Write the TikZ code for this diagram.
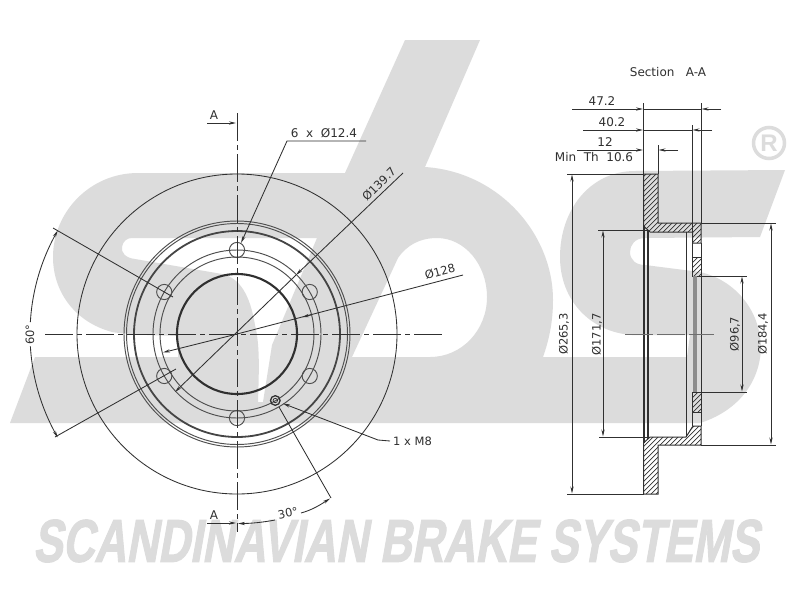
\documentclass[tikz,border=0pt]{standalone}
\usepackage{fontspec}
\usepackage{graphicx}
\setmainfont{DejaVu Sans}
\newfontfamily\logofont[FakeSlant=0.24,FakeBold=2,UprightFont=* Bold]{Liberation Sans}
\newfontfamily\regfont{Liberation Sans}
\usetikzlibrary{arrows.meta,calc}
\definecolor{wm}{HTML}{DCDCDC}
\definecolor{ink}{HTML}{303030}
\tikzset{
  thinl/.style={draw=ink,line width=0.85pt},
  ring/.style={draw=ink!85,line width=0.95pt},
  ringb/.style={draw=ink!90,line width=1.8pt},
  dim/.style={draw=ink,line width=0.85pt},
  tip/.style={-{Stealth[length=7pt,width=3.2pt]}},
  tips/.style={{Stealth[length=7pt,width=3.2pt]}-{Stealth[length=7pt,width=3.2pt]}},
  centre/.style={draw=ink,line width=0.85pt,dash pattern=on 28pt off 4pt on 5pt off 4pt},
  lab/.style={text=ink,inner sep=0pt,font=\fontsize{12}{14}\selectfont},
  labr/.style={text=ink,inner sep=0pt,font=\fontsize{11.5}{13}\selectfont},
}
\begin{document}
\begin{tikzpicture}[x=1pt,y=-1pt]
\useasboundingbox (0,0) rectangle (800,600);
\fill[white] (0,0) rectangle (800,600);
% watermark logo
\fill[wm,even odd rule]
  (10,423) -- (35,357) -- (178,357) -- (178,336)
  .. controls (150,335) and (130,335) .. (112,332)
  .. controls (75,322) and (53,292) .. (53,257)
  .. controls (53,212) and (90,173) .. (138,173)
  -- (345,173) -- (405,40) -- (480,40) -- (425,167)
  .. controls (500,172) and (553,235) .. (553,300)
  .. controls (553,322) and (549,340) .. (543,357)
  -- (687,357) -- (690,335) -- (632,335)
  .. controls (590,332) and (560,300) .. (560,257)
  .. controls (560,210) and (590,171) .. (635,171)
  -- (785,170) -- (760,237) -- (645,238)
  .. controls (635,238) and (630,245) .. (630,252)
  .. controls (630,260) and (636,265) .. (645,265)
  -- (700,272)
  .. controls (735,280) and (760,310) .. (761,347)
  .. controls (760,385) and (735,412) .. (700,423)
  -- cycle
  % first s counter
  (132,238) -- (317,238) -- (272,345) -- (263,402) -- (258,402)
  .. controls (259,370) and (260,345) .. (255,325)
  .. controls (250,295) and (240,278) .. (222,274)
  -- (135,259) .. controls (125,258) and (121,252) .. (122,247)
  .. controls (123,241) and (127,238) .. (132,238) -- cycle
  % b counter
  (352,357) -- (398,258)
  .. controls (407,245) and (420,238) .. (437,238)
  .. controls (465,238) and (487,265) .. (487,297)
  .. controls (487,330) and (462,357) .. (430,357) -- cycle;
\draw[wm,line width=3.5pt] (769,143) circle (15.5);
\node[text=wm,inner sep=0pt,font=\regfont\bfseries\fontsize{24}{24}\selectfont] (regmark) at (769,143) {R};
\node[text=wm,inner sep=0pt,anchor=center] (brand) at (396,541)
  {\resizebox{726pt}{42pt}{\logofont SCANDINAVIAN BRAKE SYSTEMS}};

% --- front view ---
\coordinate (C) at (237,334);
\draw[thinl] (C) circle (160);
\draw[ring] (C) circle (113);
\draw[ring] (C) circle (110.5);
\draw[ringb] (C) circle (103);
\draw[ring] (C) circle (84);
\draw[ring] (C) circle (77);
\draw[draw=ink,line width=2.1pt] (C) circle (60);
\foreach \a in {30,90,150,210,270,330}
  \draw[ring] ({237+84*cos(\a)},{334-84*sin(\a)}) circle (7.6);
\draw[draw=ink,line width=1.3pt] (275.3,400.5) circle (4.8);
\draw[ink,line width=0.7pt] (275.3,400.5) circle (2.2);
% centre lines
\draw[centre] (45,334) -- (445,334);
\draw[centre] (237,113) -- (237,532);
% section marks
\draw[dim,tip] (207,123) -- (236,123);
\draw[dim,tip] (207,523) -- (236,523);
\node[lab] (secA1) at (214,115) {A};
\node[lab] (secA2) at (214,515.5) {A};
% hole leader
\draw[dim,tip] (366,141) -- (287,141) -- (241,243);
\node[lab] (holes) at (324,133) {6\ \ x\ \ Ø12.4};
% Ø139.7
\draw[dim,tip] (296,275) -- (175,392);
\draw[dim,tip] (403,173) -- (296,275);
\node[labr,rotate=45] (d139) at (379,184) {Ø139.7};
% Ø128
\draw[dim,tip] (237,334) -- (163,352.5);
\draw[dim] (237,334) -- (463,275);
\draw[dim,{Stealth[length=7pt,width=3.2pt]}-] (302,317.2) -- (312,314.6);
\node[labr,rotate=15] (d128) at (440,271.5) {Ø128};
% 60 degree
\draw[dim] (173,297) -- (53,228);
\draw[dim] (176,369) -- (55,437);
\draw[dim,tip] plot[domain=176.7:150,samples=24] ({237+207*cos(\x)},{334-207*sin(\x)});
\draw[dim,tip] plot[domain=183.4:210,samples=24] ({237+207*cos(\x)},{334-207*sin(\x)});
\node[labr,rotate=90] (a60) at (30,334.5) {60°};
% 30 degree
\draw[dim] (279,407) -- (331,498);
\draw[dim,tip] (275,520) .. controls (262,522.5) and (250,523.5) .. (238,523.5);
\draw[dim,tip] (301,513) .. controls (312,510) and (320,505) .. (330,498.5);
\node[labr,rotate=12] (a30) at (288,513) {30°};
% M8 leader
\draw[dim,tip] (378,440) -- (283,403.5);
\draw[dim] (378,440) -- (390,441);
\node[labr,anchor=west] (m8) at (393,441) {1 x M8};

% --- section ---
\node[lab] (sect) at (668,72) {Section\ \ \ A-A};
% hatching
\begin{scope}
  \clip (643.5,174) -- (658,174) -- (658,223) -- (701,223) -- (701,243) -- (692.5,243) -- (692.5,232) -- (650,232) -- (643.5,226) -- cycle
        (692.5,257) rectangle (701,276)
        (692.5,392) rectangle (701,412)
        (643.5,494) -- (658,494) -- (658,445) -- (701,445) -- (701,426) -- (693,426) -- (686,437) -- (650,437) -- (643.5,443) -- cycle;
  \foreach \k in {280,285,...,700}
    \draw[ink,line width=0.7pt] (\k,520) -- (\k+360,160);
\end{scope}
\draw[thinl,line width=1pt] (643.5,226) -- (643.5,174) -- (658,174) -- (658,223) -- (701,223) -- (701,243) -- (692.5,243) -- (692.5,232) -- (650,232) -- cycle;
\draw[thinl,line width=1pt] (643.5,443) -- (643.5,494) -- (658,494) -- (658,445) -- (701,445) -- (701,426) -- (693,426) -- (686,437) -- (650,437) -- cycle;
\draw[thinl,line width=1pt] (692.5,257) rectangle (701,276);
\draw[thinl,line width=1pt] (692.5,392) rectangle (701,412);
\fill[ink!55] (692.5,276) rectangle (697,392);
\draw[thinl] (692.5,243) -- (692.5,257);
\draw[thinl] (692.5,412) -- (692.5,426);
\draw[thinl] (701,243) -- (701,426);
\draw[thinl,line width=0.7pt] (686,232) -- (686,437);
\draw[thinl,line width=1.2pt] (644,226) -- (644,443);
\draw[thinl,line width=1.2pt] (648,230) -- (648,439);
% section centre line
\draw[draw=ink!70,line width=0.85pt,dash pattern=on 28pt off 4pt on 28pt off 4pt] (625,334) -- (714,334);
% top dimensions
\draw[dim] (643.5,103) -- (643.5,174);
\draw[dim] (701,103) -- (701,223);
\draw[dim] (692,125) -- (692,232);
\draw[dim] (658,145) -- (658,174);
\draw[dim,tip] (572,109) -- (643,109);
\draw[dim] (643,109) -- (701,109);
\draw[dim,tip] (721,109) -- (701.5,109);
\draw[dim,tip] (583,130) -- (643,130);
\draw[dim] (643,130) -- (692,130);
\draw[dim,tip] (712,130) -- (692.5,130);
\draw[dim,tip] (577,150) -- (643,150);
\draw[dim,tip] (678,150) -- (658.5,150);
\node[lab] (d472) at (602,101) {47.2};
\node[lab] (d402) at (612,122) {40.2};
\node[lab] (d12) at (605,142) {12};
\node[lab] (minth) at (594,157.5) {Min\ \ Th\ \ 10.6};
% vertical dimensions
\draw[dim] (567,174) -- (643.5,174);
\draw[dim] (567,494) -- (643.5,494);
\draw[dim,tips] (572,174.5) -- (572,493.5);
\node[labr,rotate=90] (d265) at (564,334) {Ø265,3};
\draw[dim] (598,230) -- (648,230);
\draw[dim] (599,437) -- (648,437);
\draw[dim,tips] (603,230.5) -- (603,436.5);
\node[labr,rotate=90] (d171) at (597,334.5) {Ø171,7};
\draw[dim] (697,276) -- (747,276);
\draw[dim] (697,392) -- (747,392);
\draw[dim,tips] (742,276.5) -- (742,391.5);
\node[labr,rotate=90] (d96) at (735,334) {Ø96,7};
\draw[dim] (701,223) -- (776,223);
\draw[dim] (701,445) -- (776,445);
\draw[dim,tips] (771,223.5) -- (771,444.5);
\node[labr,rotate=90] (d184) at (763,334) {Ø184,4};
\end{tikzpicture}
\end{document}
